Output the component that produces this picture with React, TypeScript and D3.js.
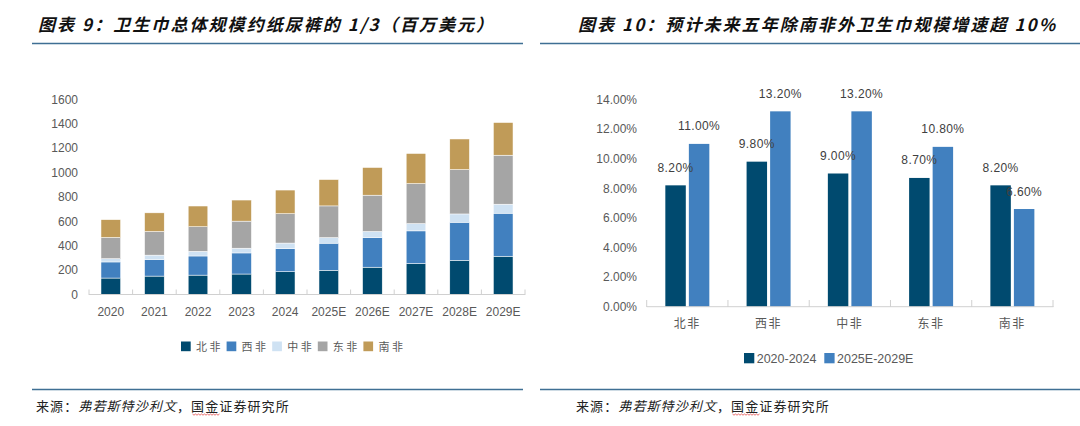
import React from "react";
import * as d3 from "d3";

// ---------- Data: left chart (百万美元) ----------
const years = ["2020", "2021", "2022", "2023", "2024", "2025E", "2026E", "2027E", "2028E", "2029E"];
const regions = ["北非", "西非", "中非", "东非", "南非"];
const northAfrica = [135, 151, 159, 168, 187, 199, 224, 254, 281, 314];
const westAfrica = [132, 136, 157, 173, 189, 222, 243, 268, 312, 353];
const centralAfrica = [27, 36, 38, 39, 46, 46, 50, 60, 68, 74];
const eastAfrica = [174, 194, 202, 222, 241, 260, 298, 328, 364, 402];
const southAfrica = [146, 153, 170, 173, 194, 216, 227, 247, 251, 268];
const leftTicks = [0, 200, 400, 600, 800, 1000, 1200, 1400, 1600];

// ---------- Data: right chart (CAGR %) ----------
const growthRegions = ["北非", "西非", "中非", "东非", "南非"];
const growthSeries = ["2020-2024", "2025E-2029E"];
const cagr2020_2024 = [8.2, 9.8, 9.0, 8.7, 8.2];
const cagr2025_2029 = [11.0, 13.2, 13.2, 10.8, 6.6];
const rightTicks = [0, 2, 4, 6, 8, 10, 12, 14];

const stackColors = ["#004a6f", "#4180bf", "#cfe2f3", "#a5a5a5", "#c09b58"];
const pairColors = ["#004a6f", "#4180bf"];
const textGray = "#595959";
const axisGray = "#d0d0d0";
const ruleBlue = "#3f6f94";

const numFont = "'Liberation Sans', Arial, sans-serif";
const cjkFont = "'Noto Sans CJK SC', sans-serif";

export default function App() {
  // Left chart scales
  const xL = d3.scaleBand<string>().domain(years).range([89, 525]).padding(0);
  const yL = d3.scaleLinear().domain([0, 1600]).range([294.5, 99.5]);
  const barW = xL.bandwidth() * 0.45;
  const table = years.map((y, i) => ({
    year: y,
    "北非": northAfrica[i],
    "西非": westAfrica[i],
    "中非": centralAfrica[i],
    "东非": eastAfrica[i],
    "南非": southAfrica[i],
  }));
  const stacked = d3.stack<any>().keys(regions)(table);

  // Right chart scales
  const xR = d3.scaleBand<string>().domain(growthRegions).range([646.7, 1053]).padding(0);
  const inner = d3.scaleBand<string>().domain(growthSeries).range([-22, 22]).paddingInner(0.13);
  const yR = d3.scaleLinear().domain([0, 14]).range([306.7, 99.5]);
  const seriesVals = [cagr2020_2024, cagr2025_2029];
  const fmtPct = (v: number) => v.toFixed(2) + "%";

  const legendStep = 45.6;

  const wavy = (x0: number, x1: number, y: number) => {
    let d = `M${x0},${y}`;
    for (let x = x0, k = 0; x < x1; x += 1.5, k++) d += ` L${x + 1.5},${y + (k % 2 ? 0 : 1.2)}`;
    return d;
  };

  const source = (x: number) => (
    <text x={x} y={411} fontFamily={cjkFont} fontSize={13} letterSpacing={1.1} fill="#222">
      <tspan>来源：</tspan>
      <tspan fontStyle="italic">弗若斯特沙利文</tspan>
      <tspan>，国金证券研究所</tspan>
    </text>
  );

  return (
    <svg width={1080} height={426} style={{ position: "absolute", left: 0, top: 0, background: "#fff" }}>
      <rect x={0} y={0} width={1080} height={426} fill="#fff" />
      {/* Titles */}
      <text x={38} y={31} fontFamily={cjkFont} fontSize={17} fontWeight={700} fontStyle="italic" fill="#111"
        textLength={455} lengthAdjust="spacing">图表 9：卫生巾总体规模约纸尿裤的 1/3（百万美元）</text>
      <text x={578} y={31} fontFamily={cjkFont} fontSize={17} fontWeight={700} fontStyle="italic" fill="#111"
        textLength={477} lengthAdjust="spacing">图表 10：预计未来五年除南非外卫生巾规模增速超 10%</text>
      <line x1={32} x2={523} y1={43.5} y2={43.5} stroke={ruleBlue} strokeWidth={1.5} />
      <line x1={540} x2={1080} y1={43.5} y2={43.5} stroke={ruleBlue} strokeWidth={1.5} />

      {/* Left chart */}
      <g>
        {leftTicks.map((t) => (
          <text key={t} x={78} y={yL(t)} dy="0.35em" textAnchor="end" fontFamily={numFont} fontSize={12} fill={textGray}>
            {t}
          </text>
        ))}
        {stacked.map((s, si) => (
          <g key={s.key} fill={stackColors[si]}>
            {s.map((d, i) => (
              <rect key={i} x={(xL(years[i]) as number) + (xL.bandwidth() - barW) / 2} y={yL(d[1])}
                width={barW} height={yL(d[0]) - yL(d[1])} stroke="#fff" strokeWidth={0.5} />
            ))}
          </g>
        ))}
        <line x1={89} x2={525} y1={294.5} y2={294.5} stroke={axisGray} strokeWidth={1} />
        {years.concat([""]).map((y, i) => {
          const x = 89 + i * xL.step();
          return <line key={i} x1={x} x2={x} y1={289.5} y2={295} stroke={axisGray} strokeWidth={1} />;
        })}
        {years.map((y) => (
          <text key={y} x={(xL(y) as number) + xL.bandwidth() / 2} y={316} textAnchor="middle"
            fontFamily={numFont} fontSize={12} fill={textGray}>{y}</text>
        ))}
        {regions.map((r, i) => (
          <g key={r} transform={`translate(${181 + i * legendStep},341.5)`}>
            <rect width={9.7} height={9.7} fill={stackColors[i]} />
            <text x={15} y={9} fontFamily={cjkFont} fontSize={11} letterSpacing={2.5} fill={textGray}>{r}</text>
          </g>
        ))}
      </g>

      {/* Right chart */}
      <g>
        {rightTicks.map((t) => (
          <text key={t} x={637} y={yR(t)} dy="0.35em" textAnchor="end" fontFamily={numFont} fontSize={12} fill={textGray}>
            {t.toFixed(2)}%
          </text>
        ))}
        {growthRegions.map((g, gi) => {
          const c = (xR(g) as number) + xR.bandwidth() / 2;
          return (
            <g key={g}>
              {growthSeries.map((s, si) => {
                const v = seriesVals[si][gi];
                const x = c + (inner(s) as number);
                return (
                  <g key={s}>
                    <rect x={x} y={yR(v)} width={inner.bandwidth()} height={yR(0) - yR(v)} fill={pairColors[si]} />
                  </g>
                );
              })}
            </g>
          );
        })}
        {growthRegions.map((g, gi) => {
          const c = (xR(g) as number) + xR.bandwidth() / 2;
          return growthSeries.map((s, si) => {
            const v = seriesVals[si][gi];
            const x = c + (inner(s) as number) + inner.bandwidth() / 2;
            return (
              <text key={g + s} x={x} y={yR(v) - 13.5} textAnchor="middle" fontFamily={numFont}
                fontSize={12} letterSpacing={0.4} fill="#404040">{fmtPct(v)}</text>
            );
          });
        })}
        <line x1={646.7} x2={1053.5} y1={306.7} y2={306.7} stroke={axisGray} strokeWidth={1} />
        {growthRegions.concat([""]).map((g, i) => {
          const x = 646.7 + i * xR.step();
          return <line key={i} x1={x} x2={x} y1={300} y2={307} stroke={axisGray} strokeWidth={1} />;
        })}
        {growthRegions.map((g) => (
          <text key={g} x={(xR(g) as number) + xR.bandwidth() / 2} y={327.5} textAnchor="middle"
            fontFamily={cjkFont} fontSize={12} letterSpacing={1.5} fill={textGray}>{g}</text>
        ))}
        {growthSeries.map((s, i) => {
          const x0 = i === 0 ? 744 : 824.3;
          return (
            <g key={s} transform={`translate(${x0},353)`}>
              <rect width={10.3} height={10.3} fill={pairColors[i]} />
              <text x={12.7} y={9.5} fontFamily={numFont} fontSize={12.5} fill={textGray}>{s}</text>
            </g>
          );
        })}
      </g>

      {/* Sources */}
      <line x1={32} x2={523} y1={389.5} y2={389.5} stroke={ruleBlue} strokeWidth={1.5} />
      <line x1={540} x2={1080} y1={389.5} y2={389.5} stroke={ruleBlue} strokeWidth={1.5} />
      {source(36)}
      {source(576)}
      <path d={wavy(192.5, 219.5, 414)} stroke="#e03030" strokeWidth={0.7} fill="none" />
      <path d={wavy(732.5, 759.5, 414)} stroke="#e03030" strokeWidth={0.7} fill="none" />
    </svg>
  );
}
